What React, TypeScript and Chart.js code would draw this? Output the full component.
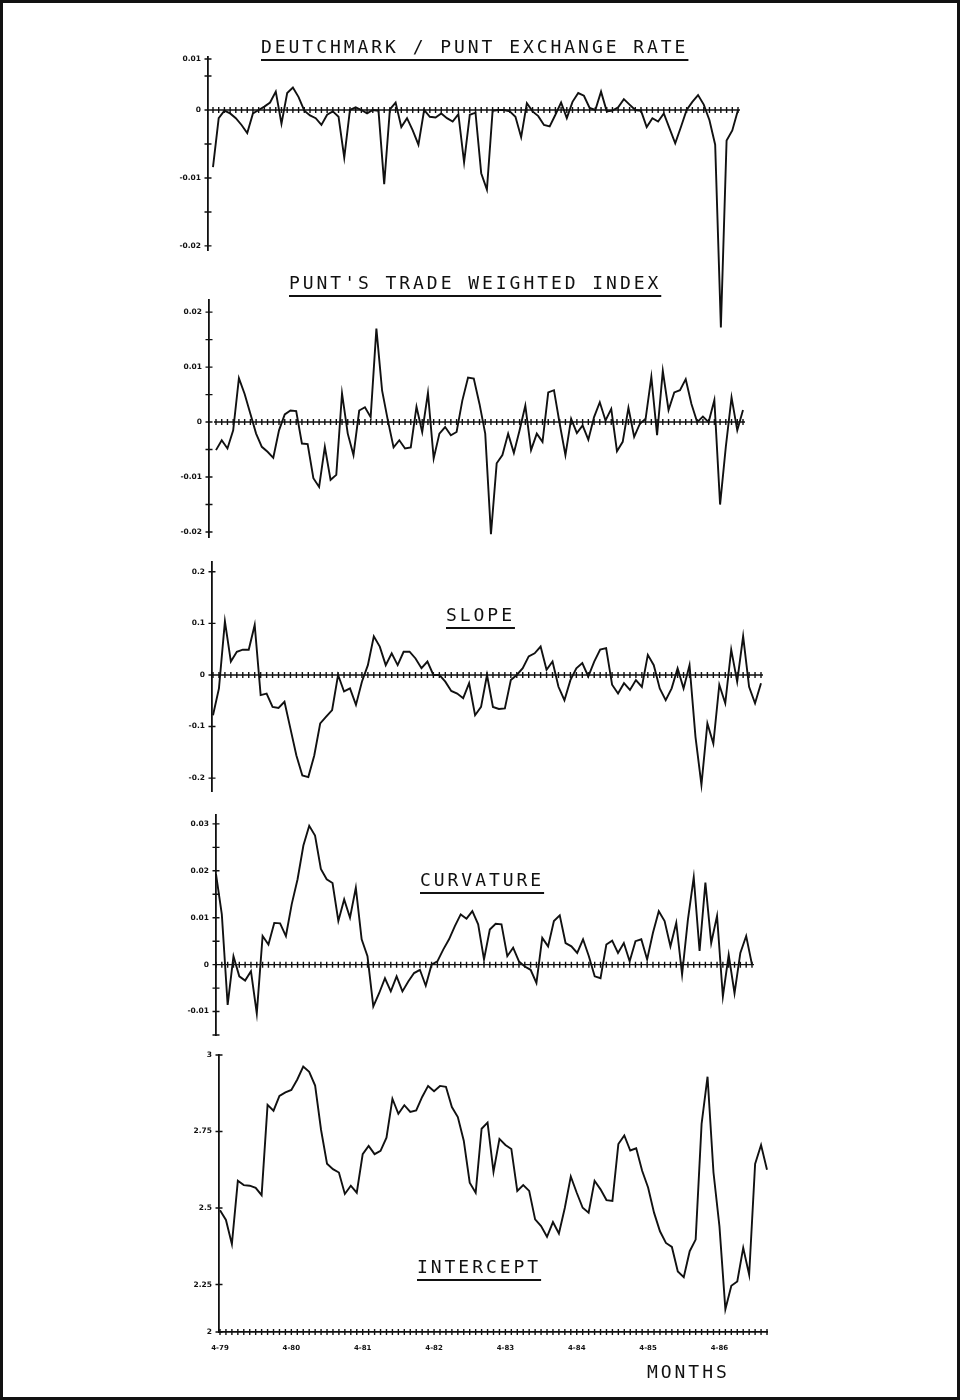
import React, { useEffect, useRef } from 'react';
import { Chart, registerables } from 'chart.js';

Chart.register(...registerables);

const INK = '#111';
const FRAME = 3;

// Monthly observations, 4-79 onward
const X_TICK_POS = [0, 12, 24, 36, 48, 60, 72, 84];
const X_TICK_LABELS = ['4-79', '4-80', '4-81', '4-82', '4-83', '4-84', '4-85', '4-86'];

const DM_PUNT = [
  -0.0084, -0.0012, -0.0001, -0.0005, -0.0012, -0.0022, -0.0034, -0.0005, 0.0, 0.0005,
  0.0011, 0.0027, -0.002, 0.0025, 0.0033, 0.0019, -0.0001, -0.0008, -0.0012, -0.0022,
  -0.0007, -0.0002, -0.001, -0.007, 0.0, 0.0004, 0.0, -0.0005, 0.0, -0.0001,
  -0.0109, 0.0001, 0.0011, -0.0025, -0.0012, -0.003, -0.0051, 0.0, -0.001, -0.0011,
  -0.0005, -0.0012, -0.0017, -0.0006, -0.0077, -0.0007, -0.0004, -0.0093, -0.0117, -0.0001,
  0.0, 0.0, -0.0002, -0.001, -0.004, 0.001, -0.0002, -0.0009, -0.0022, -0.0024,
  -0.0007, 0.0011, -0.0012, 0.0012, 0.0025, 0.0021, 0.0003, 0.0, 0.0027, -0.0002,
  -0.0001, 0.0004, 0.0016, 0.0008, 0.0, -0.0001, -0.0025, -0.0012, -0.0017, -0.0005,
  -0.0027, -0.0049, -0.0025, 0.0, 0.0012, 0.0022, 0.0008, -0.0015, -0.0051, -0.032,
  -0.0045, -0.003, 0.0,
];

const PUNT_TWI = [
  -0.0051, -0.0033, -0.0048, -0.0015, 0.008, 0.0051, 0.0015, -0.0021, -0.0045, -0.0054,
  -0.0065, -0.0015, 0.0014, 0.0021, 0.002, -0.0039, -0.004, -0.0102, -0.0118, -0.0045,
  -0.0105, -0.0096, 0.0052, -0.0021, -0.006, 0.0021, 0.0027, 0.0009, 0.017, 0.0057,
  0.0003, -0.0046, -0.0033, -0.0048, -0.0046, 0.0028, -0.0018, 0.0053, -0.0066, -0.0021,
  -0.0009, -0.0024, -0.0018, 0.0039, 0.0081, 0.0079, 0.0033, -0.0021, -0.0204, -0.0075,
  -0.006, -0.0021, -0.0056, -0.0015, 0.003, -0.0051, -0.0021, -0.0036, 0.0054, 0.0058,
  -0.0003, -0.006, 0.0006, -0.002, -0.0006, -0.0032, 0.0009, 0.0036, 0.0003, 0.0024,
  -0.0053, -0.0036, 0.0026, -0.0027, -0.0003, 0.0006, 0.0082, -0.0024, 0.0093, 0.0022,
  0.0054, 0.0058, 0.0078, 0.0033, 0.0, 0.001, 0.0, 0.004, -0.015, -0.0045,
  0.0045, -0.0015, 0.0022,
];

const SLOPE = [
  -0.078, -0.026, 0.104, 0.026, 0.045, 0.049, 0.049, 0.097, -0.039, -0.036,
  -0.062, -0.064, -0.052, -0.104, -0.156, -0.195, -0.198, -0.156, -0.094, -0.081,
  -0.068, 0.0, -0.032, -0.026, -0.058, -0.013, 0.019, 0.075, 0.055, 0.019,
  0.042, 0.019, 0.045, 0.045, 0.032, 0.013, 0.026, 0.0, 0.0, -0.013,
  -0.031, -0.036, -0.045, -0.016, -0.078, -0.062, 0.0, -0.062, -0.066, -0.065,
  -0.01, 0.0, 0.013, 0.036, 0.042, 0.055, 0.01, 0.026, -0.023, -0.049,
  -0.01, 0.013, 0.023, -0.003, 0.026, 0.049, 0.052, -0.019, -0.036, -0.016,
  -0.029, -0.01, -0.023, 0.039, 0.019, -0.026, -0.049, -0.026, 0.013, -0.026,
  0.019, -0.12, -0.213, -0.094, -0.133, -0.019, -0.055, 0.049, -0.013, 0.075,
  -0.023, -0.055, -0.016,
];

const CURVATURE = [
  0.0193, 0.0107, -0.0086, 0.0018, -0.0025, -0.0034, -0.0014, -0.0104, 0.0061, 0.0043,
  0.0089, 0.0088, 0.0061, 0.0129, 0.0182, 0.0254, 0.0296, 0.0275, 0.0204, 0.0182,
  0.0174, 0.0093, 0.0139, 0.01, 0.0164, 0.0054, 0.0018, -0.0089, -0.0061, -0.0029,
  -0.0057, -0.0025, -0.0057, -0.0036, -0.0018, -0.0011, -0.0045, 0.0, 0.0007, 0.0032,
  0.0054, 0.0082, 0.0107, 0.0098, 0.0114, 0.0086, 0.0011, 0.0075, 0.0087, 0.0086,
  0.0018, 0.0036, 0.0007, -0.0004, -0.0011, -0.0039, 0.0057, 0.0039, 0.0093, 0.0105,
  0.0046, 0.0039, 0.0025, 0.0054, 0.0018, -0.0025, -0.0029, 0.0043, 0.0051, 0.0025,
  0.0046, 0.0007, 0.005, 0.0054, 0.0011, 0.0068, 0.0114, 0.0093, 0.0039, 0.0089,
  -0.0021, 0.0096, 0.0186, 0.0029, 0.0175, 0.0046, 0.0104, -0.0068, 0.0021, -0.0061,
  0.0025, 0.0061, 0.0,
];

const INTERCEPT = [
  2.493, 2.461, 2.382, 2.589, 2.575, 2.573, 2.566, 2.542, 2.837, 2.818,
  2.866, 2.878, 2.886, 2.92, 2.962, 2.945, 2.9, 2.755, 2.645, 2.627,
  2.616, 2.546, 2.573, 2.55, 2.676, 2.703, 2.676, 2.687, 2.73, 2.857,
  2.808, 2.836, 2.814, 2.819, 2.863, 2.899, 2.882, 2.899, 2.896, 2.83,
  2.797, 2.72, 2.583, 2.55, 2.759, 2.779, 2.618, 2.726, 2.706, 2.693,
  2.556, 2.575, 2.556, 2.463, 2.441, 2.406, 2.454, 2.417, 2.501, 2.603,
  2.55, 2.501, 2.485, 2.589, 2.561, 2.526, 2.523, 2.709, 2.737, 2.688,
  2.695, 2.622, 2.567, 2.485, 2.424, 2.386, 2.373, 2.293, 2.274, 2.359,
  2.397, 2.775, 2.929, 2.616, 2.441, 2.169, 2.246, 2.26, 2.37, 2.282,
  2.644, 2.706, 2.625,
];

// Y-axis tick positions and labels for each panel
const DM_TICKS = [-0.02, -0.015, -0.01, -0.005, 0, 0.005, 0.0075];
const DM_TICK_LABELS = ['-0.02', '', '-0.01', '', '0', '', '0.01'];
const TWI_TICKS = [-0.02, -0.015, -0.01, -0.005, 0, 0.005, 0.01, 0.015, 0.02];
const TWI_TICK_LABELS = ['-0.02', '', '-0.01', '', '0', '', '0.01', '', '0.02'];
const SLOPE_TICKS = [-0.2, -0.1, 0, 0.1, 0.2];
const SLOPE_TICK_LABELS = ['-0.2', '-0.1', '0', '0.1', '0.2'];
const CURV_TICKS = [-0.015, -0.01, -0.005, 0, 0.005, 0.01, 0.015, 0.02, 0.025, 0.03];
const CURV_TICK_LABELS = ['', '-0.01', '', '0', '', '0.01', '', '0.02', '', '0.03'];
const INT_TICKS = [2.095, 2.25, 2.5, 2.75, 3];
const INT_TICK_LABELS = ['2', '2.25', '2.5', '2.75', '3'];

interface PanelSpec {
  values: number[];
  yTicks: number[];
  yTickLabels: string[];
  yMin: number;
  yMax: number;
  baseline: number;
  drawBaseline: boolean;
  axisX: number;
  firstX: number;
  lastX: number;
  top: number;
  bottom: number;
  padBottom: number;
  showMonths: boolean;
}

const PANELS: PanelSpec[] = [
  { values: DM_PUNT, yTicks: DM_TICKS, yTickLabels: DM_TICK_LABELS, yMin: -0.0206, yMax: 0.0078, baseline: 0, drawBaseline: true, axisX: 208, firstX: 213, lastX: 738, top: 57, bottom: 250, padBottom: 92, showMonths: false },
  { values: PUNT_TWI, yTicks: TWI_TICKS, yTickLabels: TWI_TICK_LABELS, yMin: -0.0209, yMax: 0.0222, baseline: 0, drawBaseline: true, axisX: 209, firstX: 216, lastX: 743, top: 300, bottom: 537, padBottom: 12, showMonths: false },
  { values: SLOPE, yTicks: SLOPE_TICKS, yTickLabels: SLOPE_TICK_LABELS, yMin: -0.225, yMax: 0.219, baseline: 0, drawBaseline: true, axisX: 212, firstX: 213, lastX: 761, top: 562, bottom: 791, padBottom: 12, showMonths: false },
  { values: CURVATURE, yTicks: CURV_TICKS, yTickLabels: CURV_TICK_LABELS, yMin: -0.015, yMax: 0.0319, baseline: 0, drawBaseline: true, axisX: 216, firstX: 216, lastX: 752, top: 815, bottom: 1035, padBottom: 12, showMonths: false },
  { values: INTERCEPT, yTicks: INT_TICKS, yTickLabels: INT_TICK_LABELS, yMin: 2.095, yMax: 3.0, baseline: 2.095, drawBaseline: false, axisX: 219, firstX: 220, lastX: 767, top: 1055, bottom: 1332, padBottom: 4, showMonths: true },
];

const TITLES = [
  { text: 'DEUTCHMARK / PUNT EXCHANGE RATE', x: 261, cy: 47, underline: true },
  { text: "PUNT'S TRADE WEIGHTED INDEX", x: 289, cy: 283, underline: true },
  { text: 'SLOPE', x: 446, cy: 615, underline: true },
  { text: 'CURVATURE', x: 420, cy: 880, underline: true },
  { text: 'INTERCEPT', x: 417, cy: 1267, underline: true },
  { text: 'MONTHS', x: 647, cy: 1372, underline: false },
];

const YW = 45;
const PAD_T = 12;
const PAD_R = 10;
const XH = 26;

function Panel({ spec }: { spec: PanelSpec }) {
  const ref = useRef<HTMLCanvasElement>(null);
  const n = spec.values.length;
  const left = spec.axisX - YW;
  const top = spec.top - PAD_T;
  const width = spec.lastX + PAD_R - left;
  const height = spec.bottom - top + (spec.showMonths ? XH : 0) + spec.padBottom;
  const xMin = -((spec.firstX - spec.axisX) * (n - 1)) / (spec.lastX - spec.firstX);

  useEffect(() => {
    if (!ref.current) return;
    const crosses = {
      id: 'axisCrosses',
      afterDatasetsDraw(chart: any) {
        const { ctx } = chart;
        const xs = chart.scales.x;
        const ys = chart.scales.y;
        const by = ys.getPixelForValue(spec.baseline);
        ctx.save();
        ctx.strokeStyle = INK;
        ctx.lineWidth = 1.4;
        ctx.beginPath();
        if (spec.drawBaseline) {
          ctx.moveTo(xs.getPixelForValue(0) - 2, by);
          ctx.lineTo(xs.getPixelForValue(n - 1) + 2, by);
        }
        for (let i = 0; i < n; i++) {
          const px = xs.getPixelForValue(i);
          ctx.moveTo(px, by - 3);
          ctx.lineTo(px, by + 3);
        }
        const ax = chart.chartArea.left;
        for (const t of ys.ticks) {
          const py = ys.getPixelForValue(t.value);
          ctx.moveTo(ax - 3.5, py);
          ctx.lineTo(ax + 3.5, py);
        }
        ctx.stroke();
        ctx.restore();
      },
    };

    const xScale: any = {
      type: 'linear',
      min: xMin,
      max: n - 1,
      display: spec.showMonths,
      position: 'bottom',
      grid: { display: false, drawTicks: false },
      border: { display: true, color: INK, width: 1.8 },
      afterBuildTicks: (s: any) => {
        s.ticks = X_TICK_POS.map((v) => ({ value: v }));
      },
      ticks: {
        autoSkip: false,
        maxRotation: 0,
        minRotation: 0,
        padding: 12,
        color: INK,
        font: { family: 'DejaVu Sans', size: 7, weight: 'bold' },
        callback: (_v: any, i: number) => X_TICK_LABELS[i] ?? '',
      },
    };
    if (spec.showMonths) {
      xScale.afterFit = (s: any) => {
        s.height = XH;
      };
    }

    const chart = new Chart(ref.current, {
      type: 'line',
      data: {
        datasets: [
          {
            data: spec.values.map((v, i) => ({ x: i, y: v })),
            borderColor: INK,
            borderWidth: 1.9,
            pointRadius: 0,
            tension: 0,
            fill: false,
            clip: false as any,
          },
        ],
      },
      options: {
        responsive: false,
        animation: false,
        events: [],
        layout: { padding: { top: PAD_T, right: PAD_R, bottom: spec.padBottom, left: 0 } },
        plugins: { legend: { display: false }, tooltip: { enabled: false }, title: { display: false } },
        scales: {
          x: xScale,
          y: {
            type: 'linear',
            min: spec.yMin,
            max: spec.yMax,
            position: 'left',
            grid: { display: false, drawTicks: false },
            border: { display: true, color: INK, width: 1.8 },
            afterBuildTicks: (s: any) => {
              s.ticks = spec.yTicks.map((v) => ({ value: v }));
            },
            afterFit: (s: any) => {
              s.width = YW;
            },
            ticks: {
              autoSkip: false,
              padding: 7,
              color: INK,
              font: { family: 'DejaVu Sans', size: 7.5, weight: 'bold' },
              callback: (_v: any, i: number) => spec.yTickLabels[i] ?? '',
            },
          },
        },
      } as any,
      plugins: [crosses],
    });
    return () => chart.destroy();
  }, []);

  return (
    <canvas
      ref={ref}
      width={width}
      height={height}
      style={{ position: 'absolute', left: left - FRAME, top: top - FRAME, width, height }}
    />
  );
}

export default function App() {
  return (
    <div
      style={{
        position: 'absolute',
        left: 0,
        top: 0,
        width: 960,
        height: 1400,
        boxSizing: 'border-box',
        border: `${FRAME}px solid #111`,
        background: '#fff',
        overflow: 'hidden',
      }}
    >
      {PANELS.map((p, i) => (
        <Panel key={i} spec={p} />
      ))}
      {TITLES.map((t, i) => (
        <div
          key={'t' + i}
          style={{
            position: 'absolute',
            left: t.x - FRAME,
            top: t.cy - 9 - FRAME,
            fontFamily: '"DejaVu Sans Mono", monospace',
            fontSize: 18,
            lineHeight: '18px',
            letterSpacing: '2.95px',
            whiteSpace: 'pre',
            color: INK,
            textDecoration: t.underline ? 'underline' : 'none',
            textDecorationThickness: '2px',
            textUnderlineOffset: '6px',
          }}
        >
          {t.text}
        </div>
      ))}
    </div>
  );
}
